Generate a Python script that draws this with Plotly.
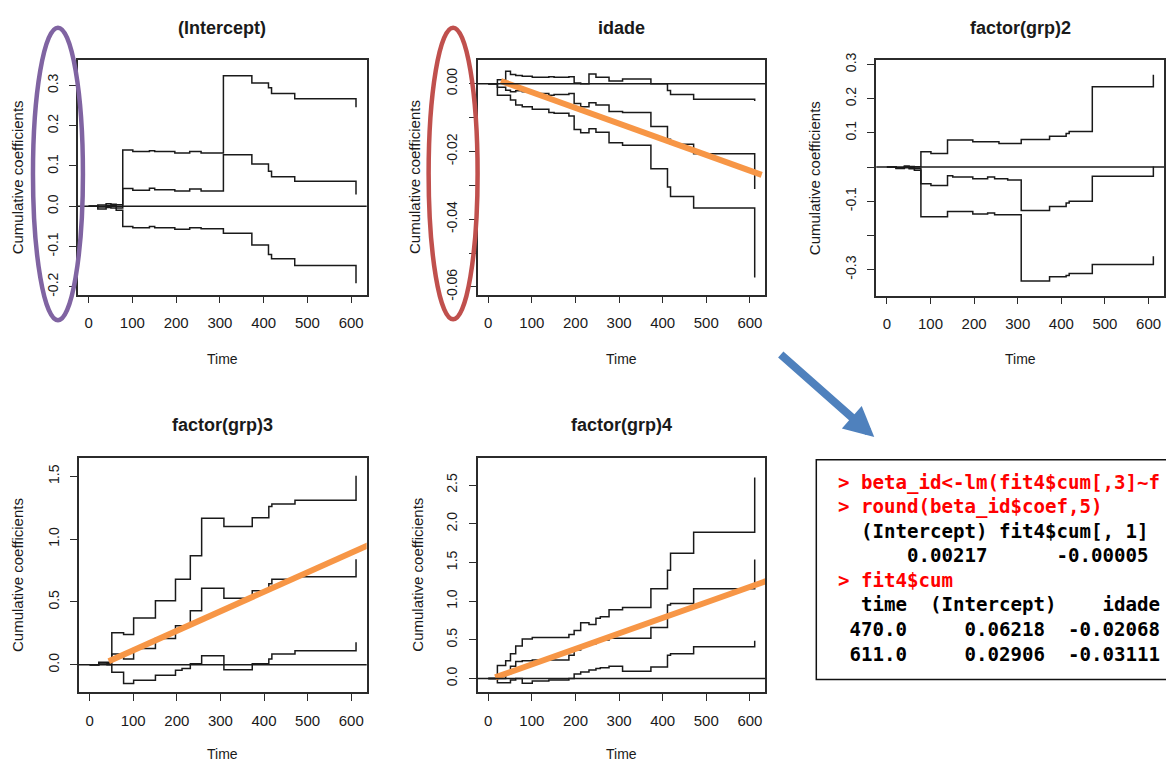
import plotly.graph_objects as go

W, H = 1166, 771

# ---------------- data ----------------
time = [0, 21, 40, 51, 63, 78, 101, 139, 151, 185, 197, 212, 231, 247, 257, 277, 308, 373, 411, 418, 471, 611]

intercept_est = [0, -0.002, 0.002, 0.001, -0.004, 0.044, 0.040, 0.045, 0.041, 0.041, 0.038, 0.038, 0.043, 0.043, 0.038, 0.038, 0.128, 0.105, 0.087, 0.073, 0.062, 0.029]
intercept_hi = [0, 0.003, 0.006, 0.005, 0.004, 0.140, 0.136, 0.138, 0.136, 0.136, 0.132, 0.132, 0.136, 0.136, 0.132, 0.132, 0.324, 0.306, 0.294, 0.280, 0.267, 0.246]
intercept_lo = [0, -0.007, -0.003, -0.004, -0.010, -0.050, -0.053, -0.050, -0.053, -0.053, -0.057, -0.057, -0.053, -0.053, -0.056, -0.056, -0.067, -0.096, -0.120, -0.130, -0.147, -0.191]

idade_est = [0, -0.0010, -0.0019, -0.0024, -0.0021, -0.0024, -0.0029, -0.0034, -0.0032, -0.0029, -0.0058, -0.0068, -0.0056, -0.0063, -0.0063, -0.0082, -0.0085, -0.0126, -0.0164, -0.0179, -0.0207, -0.0311]
idade_hi = [0, 0.0012, 0.0037, 0.0027, 0.0024, 0.0022, 0.0019, 0.0021, 0.0019, 0.0021, 0.0002, 0.0000, 0.0029, 0.0019, 0.0019, 0.0008, 0.0014, 0.0000, -0.0020, -0.0032, -0.0046, -0.0051]
idade_lo = [0, -0.0034, -0.0034, -0.0048, -0.0063, -0.0068, -0.0075, -0.0085, -0.0087, -0.0095, -0.0135, -0.0145, -0.0133, -0.0143, -0.0143, -0.0174, -0.0182, -0.0251, -0.0305, -0.0333, -0.0367, -0.0572]

grp2_est = [0, -0.003, 0.001, -0.002, -0.004, -0.049, -0.054, -0.025, -0.029, -0.029, -0.034, -0.034, -0.029, -0.034, -0.034, -0.038, -0.127, -0.115, -0.105, -0.100, -0.027, 0.002]
grp2_hi = [0, -0.002, 0.003, 0.002, 0.001, 0.045, 0.040, 0.079, 0.079, 0.079, 0.074, 0.074, 0.074, 0.074, 0.069, 0.069, 0.081, 0.090, 0.098, 0.104, 0.235, 0.270]
grp2_lo = [0, -0.004, -0.002, -0.005, -0.009, -0.145, -0.145, -0.130, -0.130, -0.130, -0.137, -0.137, -0.134, -0.139, -0.139, -0.139, -0.333, -0.321, -0.317, -0.311, -0.285, -0.261]

grp3_est = [0, 0.015, 0.010, 0.086, 0.086, 0.047, 0.130, 0.130, 0.210, 0.210, 0.310, 0.310, 0.430, 0.430, 0.610, 0.610, 0.530, 0.590, 0.645, 0.680, 0.700, 0.840]
grp3_hi = [0, 0.020, 0.020, 0.255, 0.255, 0.242, 0.372, 0.372, 0.510, 0.510, 0.680, 0.680, 0.867, 0.867, 1.167, 1.167, 1.100, 1.170, 1.260, 1.280, 1.310, 1.505]
grp3_lo = [0, 0.005, 0.000, -0.060, -0.060, -0.148, -0.122, -0.122, -0.083, -0.083, -0.044, -0.030, 0.008, 0.008, 0.073, 0.073, -0.039, 0.008, 0.047, 0.086, 0.112, 0.180]

grp4_est = [0, 0.000, 0.060, 0.160, 0.220, 0.230, 0.240, 0.240, 0.240, 0.300, 0.370, 0.420, 0.450, 0.490, 0.500, 0.520, 0.520, 0.660, 0.950, 0.970, 1.160, 1.540]
grp4_hi = [0, 0.170, 0.230, 0.320, 0.420, 0.510, 0.530, 0.530, 0.530, 0.570, 0.620, 0.720, 0.700, 0.780, 0.800, 0.890, 0.920, 1.160, 1.400, 1.620, 1.890, 2.600]
grp4_lo = [0, -0.055, -0.055, -0.020, 0.000, -0.060, -0.030, -0.020, -0.020, 0.000, 0.060, 0.085, 0.110, 0.130, 0.140, 0.160, 0.093, 0.150, 0.300, 0.320, 0.410, 0.490]

# fitted straight lines (orange overlays), endpoints in data units
idade_fit_x = [29, 627]
idade_fit_y = [0.0008, -0.0269]
grp3_fit_x = [44, 650]
grp3_fit_y = [0.028, 0.969]
grp4_fit_x = [16, 652]
grp4_fit_y = [0.015, 1.29]

x_ticks = [0, 100, 200, 300, 400, 500, 600]
x_ticklabels = ["0", "100", "200", "300", "400", "500", "600"]
intercept_ticks = [-0.2, -0.1, 0.0, 0.1, 0.2, 0.3]
intercept_ticklabels = ["-0.2", "-0.1", "0.0", "0.1", "0.2", "0.3"]
idade_ticks = [0.0, -0.01, -0.02, -0.03, -0.04, -0.05, -0.06]
idade_ticklabels = ["0.00", "", "-0.02", "", "-0.04", "", "-0.06"]
grp2_ticks = [0.3, 0.2, 0.1, 0.0, -0.1, -0.2, -0.3]
grp2_ticklabels = ["0.3", "0.2", "0.1", "", "-0.1", "", "-0.3"]
grp3_ticks = [0.0, 0.5, 1.0, 1.5]
grp3_ticklabels = ["0.0", "0.5", "1.0", "1.5"]
grp4_ticks = [0.0, 0.5, 1.0, 1.5, 2.0, 2.5]
grp4_ticklabels = ["0.0", "0.5", "1.0", "1.5", "2.0", "2.5"]

titles = ["(Intercept)", "idade", "factor(grp)2", "factor(grp)3", "factor(grp)4"]

console_lines = [
    ("> beta_id<-lm(fit4$cum[,3]~f", "#ff0000"),
    ("> round(beta_id$coef,5)", "#ff0000"),
    ("  (Intercept) fit4$cum[, 1]", "#000000"),
    ("      0.00217      -0.00005", "#000000"),
    ("> fit4$cum", "#ff0000"),
    ("  time  (Intercept)    idade", "#000000"),
    (" 470.0     0.06218  -0.02068", "#000000"),
    (" 611.0     0.02906  -0.03111", "#000000"),
]

# ---------------- layout helpers ----------------
XRANGE = [-24.4, 635.4]
panels = [
    dict(est=intercept_est, hi=intercept_hi, lo=intercept_lo, yr=[-0.2195, 0.363],
         tv=intercept_ticks, tt=intercept_ticklabels, box=(78, 367, 53, 292), ylx=17, fit=None),
    dict(est=idade_est, hi=idade_hi, lo=idade_lo, yr=[-0.0623, 0.0070],
         tv=idade_ticks, tt=idade_ticklabels, box=(478, 766, 53, 292), ylx=415,
         fit=(idade_fit_x, idade_fit_y)),
    dict(est=grp2_est, hi=grp2_hi, lo=grp2_lo, yr=[-0.376, 0.313],
         tv=grp2_ticks, tt=grp2_ticklabels, box=(877, 1165, 53, 293), ylx=816, fit=None),
    dict(est=grp3_est, hi=grp3_hi, lo=grp3_lo, yr=[-0.219, 1.648],
         tv=grp3_ticks, tt=grp3_ticklabels, box=(79, 367, 458, 697), ylx=17,
         fit=(grp3_fit_x, grp3_fit_y)),
    dict(est=grp4_est, hi=grp4_hi, lo=grp4_lo, yr=[-0.178, 2.855],
         tv=grp4_ticks, tt=grp4_ticklabels, box=(478, 766, 458, 697), ylx=417,
         fit=(grp4_fit_x, grp4_fit_y)),
]

def px(xp):
    return xp / W

def py(yp):
    return 1 - yp / H

FONT = "Liberation Sans, Arial, sans-serif"
INK = "#1a1a1a"

fig = go.Figure()
annotations = []
shapes = []
layout_axes = {}

for i, p in enumerate(panels, start=1):
    sfx = "" if i == 1 else str(i)
    xa, ya = "x" + sfx, "y" + sfx
    l, r, t, b = p["box"]
    for series in (p["hi"], p["est"], p["lo"]):
        fig.add_trace(go.Scatter(
            x=time, y=series, mode="lines", xaxis=xa, yaxis=ya,
            line=dict(shape="hv", color=INK, width=1.5),
            showlegend=False, hoverinfo="skip"))
    if p["fit"] is not None:
        fx, fy = p["fit"]
        fig.add_trace(go.Scatter(
            x=fx, y=fy, mode="lines", xaxis=xa, yaxis=ya,
            line=dict(color="#F79646", width=6),
            showlegend=False, hoverinfo="skip"))
    common = dict(showgrid=False, zeroline=False, showline=True, mirror=True,
                  linecolor="#2b2b2b", linewidth=1.5, ticks="outside", ticklen=7,
                  tickwidth=1.3, tickcolor="#2b2b2b", fixedrange=True)
    layout_axes["xaxis" + sfx] = dict(
        domain=[px(l), px(r)], range=XRANGE, anchor=ya, tickmode="array",
        tickvals=x_ticks, ticktext=x_ticklabels, ticklabelstandoff=7,
        tickfont=dict(family=FONT, size=15, color=INK), **common)
    layout_axes["yaxis" + sfx] = dict(
        domain=[py(b), py(t)], range=p["yr"], anchor=xa, tickmode="array",
        tickvals=p["tv"], ticktext=p["tt"], tickangle=-90, ticklabelstandoff=6,
        tickfont=dict(family=FONT, size=14, color=INK), **common)
    # zero reference line
    shapes.append(dict(type="line", xref=xa + " domain", yref=ya, x0=0, x1=1, y0=0, y1=0,
                       line=dict(color=INK, width=1.5), layer="above"))
    cx = (l + r) / 2
    title_y = 20 if t < 200 else 425
    time_y = 357 if t < 200 else 760
    annotations.append(dict(text="<b>%s</b>" % titles[i - 1], xref="paper", yref="paper",
                            x=px(cx), y=py(title_y), showarrow=False, xanchor="center",
                            yanchor="middle", font=dict(family=FONT, size=18, color=INK)))
    annotations.append(dict(text="Time", xref="paper", yref="paper", x=px(cx), y=py(time_y),
                            showarrow=False, xanchor="center", yanchor="middle",
                            font=dict(family=FONT, size=14, color=INK)))
    annotations.append(dict(text="Cumulative coefficients", xref="paper", yref="paper",
                            x=px(p["ylx"]), y=py((t + b) / 2), showarrow=False, textangle=-90,
                            xanchor="center", yanchor="middle",
                            font=dict(family=FONT, size=15, color=INK)))

# ellipses highlighting the y axes
shapes.append(dict(type="circle", xref="paper", yref="paper", x0=px(33), x1=px(83),
                   y0=py(318), y1=py(20), line=dict(color="#8064A2", width=4.5), layer="above"))
shapes.append(dict(type="circle", xref="paper", yref="paper", x0=px(429), x1=px(478),
                   y0=py(317), y1=py(20), line=dict(color="#C0504D", width=4.5), layer="above"))

# console box
shapes.append(dict(type="rect", xref="paper", yref="paper", x0=px(817), x1=1.02,
                   y0=py(684), y1=py(460), line=dict(color="#111111", width=1.5),
                   fillcolor="white", layer="above"))
for k, (txt, col) in enumerate(console_lines):
    annotations.append(dict(text="<b>%s</b>" % txt.replace(" ", "\u00a0"), xref="paper", yref="paper",
                            x=px(837), y=py(483 + 25 * k), showarrow=False, xanchor="left",
                            yanchor="middle", font=dict(family="DejaVu Sans Mono, monospace",
                                                        size=19.1, color=col)))

# blue arrow
annotations.append(dict(text="", xref="paper", yref="paper", x=px(875), y=py(437),
                        ax=-95, ay=-84, axref="pixel", ayref="pixel", showarrow=True,
                        arrowhead=2, arrowsize=0.75, arrowwidth=8, arrowcolor="#4F81BD"))

fig.update_layout(
    width=W, height=H, margin=dict(l=0, r=0, t=0, b=0),
    paper_bgcolor="white", plot_bgcolor="white",
    annotations=annotations, shapes=shapes, showlegend=False,
    **layout_axes)

fig.write_html("out.html")
